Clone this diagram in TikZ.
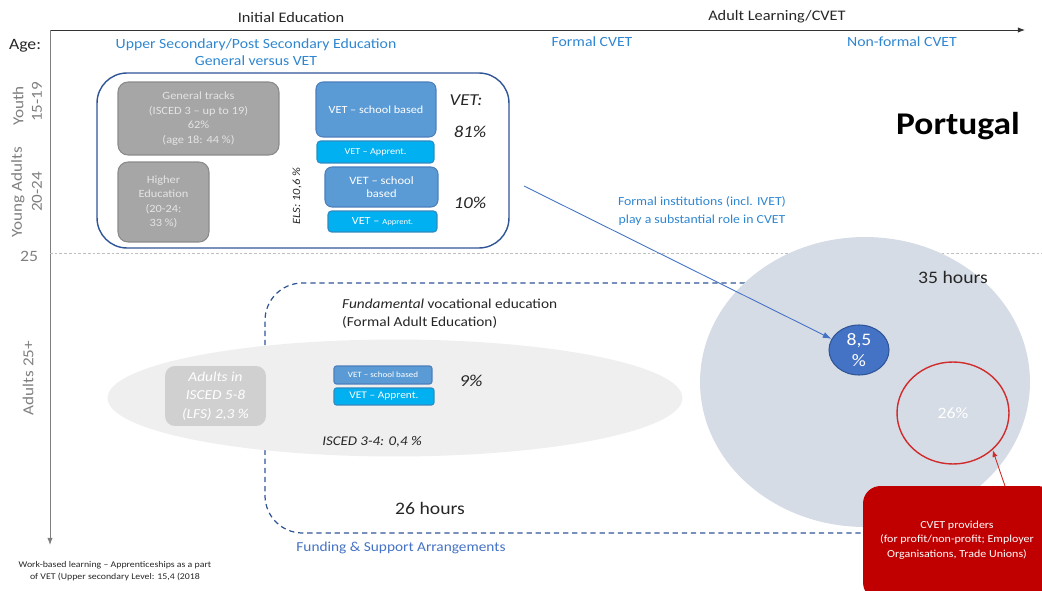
\documentclass[tikz,border=0pt]{standalone}
\usepackage{fontspec}
\setmainfont[FakeStretch=1.12]{Carlito}
\usetikzlibrary{shapes.geometric,arrows.meta}
\definecolor{hblue}{HTML}{2E86D1}
\definecolor{fblue}{HTML}{4472C4}
\definecolor{dblue}{HTML}{2F5597}
\definecolor{gfill}{HTML}{A6A6A6}
\definecolor{gborder}{HTML}{8A8A8A}
\definecolor{gtext}{HTML}{E4E4E4}
\definecolor{vsfill}{HTML}{5B9BD5}
\definecolor{vsborder}{HTML}{4A7EBB}
\definecolor{vafill}{HTML}{00B0F0}
\definecolor{vaborder}{HTML}{2F8AC0}
\definecolor{afill}{HTML}{D0D0D0}
\definecolor{ellgray}{HTML}{EFEFEF}
\definecolor{circfill}{HTML}{D6DCE5}
\definecolor{cvetred}{HTML}{C00000}
\definecolor{ringred}{HTML}{D02C2C}
\definecolor{axgray}{HTML}{7F7F7F}
\definecolor{txtdark}{HTML}{262626}
\begin{document}
\begin{tikzpicture}[x=0.02cm,y=-0.02cm,
  gbox/.style={draw=gborder, fill=gfill, rounded corners=0.2cm, text=gtext, align=center, inner sep=0pt, line width=0.6pt,
    font=\fontsize{6.3}{8.3}\selectfont},
  vsbox/.style={draw=vsborder, fill=vsfill, rounded corners=0.14cm, text=white, align=center, inner sep=0pt, line width=0.6pt},
  vabox/.style={draw=vaborder, fill=vafill, rounded corners=0.07cm, text=white, align=center, inner sep=0pt, line width=0.6pt},
  axlab/.style={rotate=90, text=axgray, font=\fontsize{8.7}{10}\selectfont},
  head/.style={text=hblue, align=center, font=\fontsize{8}{10}\selectfont},
  pct/.style={text=txtdark, font=\fontsize{9.5}{11}\selectfont\itshape},
  hours/.style={text=txtdark, font=\fontsize{10}{12}\selectfont},
]
\useasboundingbox (0,0) rectangle (1042,591);

% axes
\coordinate (orig) at (50,30);
\coordinate (xend) at (1025,30);
\coordinate (yend) at (50,545);
\draw[line width=0.5pt, black!80, -{Latex[length=4pt,width=3pt]}] (orig) -- (xend);
\draw[line width=0.5pt, axgray, -{Latex[length=4pt,width=3pt]}] (orig) -- (yend);

% dotted age-25 line
\coordinate (l25a) at (50,253);
\coordinate (l25b) at (1042,253);
\draw[black!25, line width=0.4pt, dash pattern=on 1.5pt off 1.2pt] (l25a) -- (l25b);

% axis titles
\node[text=txtdark, font=\fontsize{8.3}{10}\selectfont] (ie) at (291,17) {Initial Education};
\node[text=txtdark, font=\fontsize{8.3}{10}\selectfont] (al) at (777,17) {Adult Learning/CVET};
\node[text=txtdark, font=\fontsize{9}{10}\selectfont] (age) at (25,46) {Age:};
\node[head] (usec) at (256,52) {Upper Secondary/Post Secondary Education\\General versus VET};
\node[head] (fcvet) at (592,42) {Formal CVET};
\node[head] (nfcvet) at (902,42) {Non-formal CVET};

% left axis labels
\node[axlab] (youth) at (18,106) {Youth};
\node[axlab] (y1519) at (37,102) {15-19};
\node[axlab] (yad) at (18,192) {Young Adults};
\node[axlab] (y2024) at (37,192) {20-24};
\node[text=axgray, font=\fontsize{9}{10}\selectfont] (y25) at (29,256) {25};
\node[axlab] (ad25) at (28,378) {Adults 25+};

% dashed funding frame
\coordinate (fa) at (745,283);
\coordinate (fb) at (265,283);
\coordinate (fc) at (265,533);
\coordinate (fd) at (870,533);
\draw[dblue, line width=0.7pt, dash pattern=on 3pt off 2.2pt, rounded corners=0.75cm] (fa) -- (fb) -- (fc) -- (fd);

% big non-formal circle
\node[ellipse, fill=circfill, minimum width=6.6cm, minimum height=5.8cm, inner sep=0pt] (big) at (865,382) {};
\node[hours] (h35) at (953,277) {35 hours};

% gray ellipse for adults
\node[ellipse, fill=ellgray, minimum width=11.5cm, minimum height=2.34cm, inner sep=0pt] (gell) at (395,398) {};

% upper secondary box
\node[draw=dblue, line width=0.8pt, rounded corners=0.6cm, minimum width=8.24cm, minimum height=3.5cm] (outer) at (303,160.5) {};
\node[gbox, minimum width=3.22cm, minimum height=1.46cm] (gen) at (198.5,118.5) {General tracks\\(ISCED 3 -- up to 19)\\62\%\\(age 18: 44 \%)};
\node[gbox, minimum width=1.82cm, minimum height=1.6cm] (higher) at (163.5,202) {Higher\\Education\\(20-24:\\33 \%)};
\node[vsbox, minimum width=2.4cm, minimum height=1.1cm, font=\fontsize{6.2}{8}\selectfont] (vs1) at (376,109.5) {VET -- school based};
\node[vabox, minimum width=2.34cm, minimum height=0.44cm, font=\fontsize{5.2}{7}\selectfont] (va1) at (375.5,152) {VET -- Apprent.};
\node[vsbox, minimum width=2.26cm, minimum height=0.8cm, font=\fontsize{6.4}{7.6}\selectfont] (vs2) at (381.5,187) {VET -- school\\based};
\node[vabox, minimum width=2.18cm, minimum height=0.42cm, font=\fontsize{6.2}{7}\selectfont] (va2) at (382.5,221.5) {VET -- {\fontsize{4.4}{6}\selectfont Apprent.}};
\node[rotate=90, text=txtdark, font=\fontsize{6.3}{8}\selectfont\itshape] (els) at (297,196) {ELS: 10,6 \%};
\node[pct] (vetc) at (466,100) {VET:};
\node[pct] (p81) at (470,132) {81\%};
\node[pct] (p10) at (470,203) {10\%};

\node[text=black, font=\fontsize{18}{20}\selectfont\bfseries] (pt) at (958,126) {Portugal};
\node[text=hblue, align=center, font=\fontsize{7}{10}\selectfont] (finst) at (702,211) {Formal institutions (incl. IVET)\\play a substantial role in CVET};

% adult education
\node[text=txtdark, anchor=west, align=left, font=\fontsize{7.8}{10.2}\selectfont] (fund) at (336,314) {\textit{Fundamental} vocational education\\(Formal Adult Education)};
\node[fill=afill, rounded corners=0.2cm, minimum width=2.02cm, minimum height=1.2cm, text=white, align=center, inner sep=0pt,
  font=\fontsize{7.8}{10.7}\selectfont\itshape] (adults) at (215.5,396) {Adults in\\ISCED 5-8\\(LFS) 2,3 \%};
\node[vsbox, minimum width=1.96cm, minimum height=0.36cm, rounded corners=0.05cm, font=\fontsize{4.6}{6}\selectfont] (vs3) at (383,375) {VET -- school based};
\node[vabox, minimum width=2.0cm, minimum height=0.34cm, rounded corners=0.05cm, font=\fontsize{5.8}{7}\selectfont] (va3) at (384,396.5) {VET -- Apprent.};
\node[pct] (p9) at (471,381) {9\%};
\node[text=txtdark, font=\fontsize{7.6}{9}\selectfont\itshape] (isced34) at (372,442) {ISCED 3-4: 0,4 \%};
\node[hours] (h26) at (430,508) {26 hours};
\node[text=fblue, font=\fontsize{7.8}{10}\selectfont] (funding) at (401,548) {Funding \& Support Arrangements};

% CVET ellipses
\node[ellipse, fill=fblue, draw=dblue, line width=0.6pt, minimum width=1.2cm, minimum height=1.0cm, inner sep=0pt,
  text=white, align=center, font=\fontsize{10}{12}\selectfont] (b85) at (859,350) {8,5\\\%};
\node[ellipse, draw=ringred, line width=0.8pt, minimum width=2.24cm, minimum height=2.04cm, inner sep=0pt,
  text=white, font=\fontsize{9}{10}\selectfont] (redc) at (953,413) {26\%};

% arrow from formal institutions
\coordinate (ibeg) at (524,186);
\draw[fblue, line width=0.5pt, -{Latex[length=5pt,width=3.5pt]}] (ibeg) -- (b85.158);

% CVET providers
\node[fill=cvetred, rounded corners=0.35cm, minimum width=3.84cm, minimum height=2.28cm, inner sep=0pt] (redbox) at (959,543) {};
\node[text=white, align=center, font=\fontsize{6.1}{8.2}\selectfont] (redtxt) at (957,540) {CVET providers\\(for profit/non-profit; Employer\\Organisations, Trade Unions)};
\coordinate (rfrom) at (1005,486);
\draw[ringred, line width=0.5pt, -{Latex[length=4pt,width=3pt]}] (rfrom) -- (redc.-43);

% footnote
\node[text=txtdark, align=center, font=\fontsize{5}{6.8}\selectfont] (note) at (115,571) {Work-based learning -- Apprenticeships as a part\\of VET (Upper secondary Level: 15,4 (2018};
\end{tikzpicture}
\end{document}
